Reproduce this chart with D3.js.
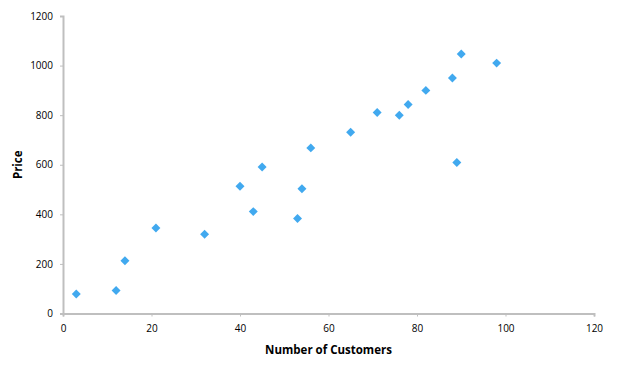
<!DOCTYPE html>
<html>
<head>
<meta charset="utf-8">
<script src="https://cdn.jsdelivr.net/npm/d3@7"></script>
<style>
  body { margin: 0; background: #fff; }
  text { font-family: "Open Sans", "Liberation Sans", sans-serif; fill: #000; }
</style>
</head>
<body>
<div id="vis"></div>
<script>
// Data
var customers = [3, 12, 14, 21, 32, 40, 43, 45, 53, 54, 56, 65, 71, 76, 78, 82, 88, 89, 90, 98];
var prices    = [79, 93, 213, 345, 320, 513, 411, 591, 383, 503, 668, 731, 811, 800, 843, 900, 950, 609, 1047, 1010];
var xTicks = [0, 20, 40, 60, 80, 100, 120];
var yTicks = [0, 200, 400, 600, 800, 1000, 1200];

var width = 617, height = 377,
    margin = {top: 16, right: 23, bottom: 64, left: 63};

var svg = d3.select('#vis').append('svg')
    .attr('width', width)
    .attr('height', height);

var x = d3.scaleLinear().domain([0, 120]).range([margin.left, width - margin.right]);
var y = d3.scaleLinear().domain([0, 1200]).range([height - margin.bottom + 0.5, margin.top]);

//axes
var xAxis = svg.append('g')
    .attr('transform', 'translate(0,' + y(0) + ')')
    .call(d3.axisBottom(x).tickValues(xTicks).tickFormat(d3.format('d')).tickSize(3).tickPadding(8));
var yAxis = svg.append('g')
    .attr('transform', 'translate(' + x(0) + ',0)')
    .call(d3.axisLeft(y).tickValues(yTicks).tickFormat(d3.format('d')).tickSize(3).tickPadding(7));

[xAxis, yAxis].forEach(function(a){
    a.select('.domain').attr('stroke', '#bfbfbf').attr('stroke-width', 2);
    a.selectAll('.tick line').attr('stroke', '#bfbfbf');
    a.selectAll('.tick text').style('font-size', '10px');
});

// points
var pts = customers.map(function(c, i){ return {x: c, y: prices[i]}; });
svg.append('g').selectAll('path')
    .data(pts)
    .enter().append('path')
    .attr('d', d3.symbol().type(d3.symbolSquare).size(40))
    .attr('transform', function(d){ return 'translate(' + x(d.x) + ',' + y(d.y) + ') rotate(45)'; })
    .attr('fill', '#41a9ef');

// titles
svg.append('text')
    .attr('x', (x(0) + x(120)) / 2)
    .attr('y', 354)
    .attr('text-anchor', 'middle')
    .style('font-size', '11.5px')
    .style('font-weight', 'bold')
    .text('Number of Customers');

svg.append('text')
    .attr('transform', 'translate(22,' + ((y(0) + y(1200)) / 2) + ') rotate(-90)')
    .attr('text-anchor', 'middle')
    .style('font-size', '11.5px')
    .style('font-weight', 'bold')
    .text('Price');
</script>
</body>
</html>
